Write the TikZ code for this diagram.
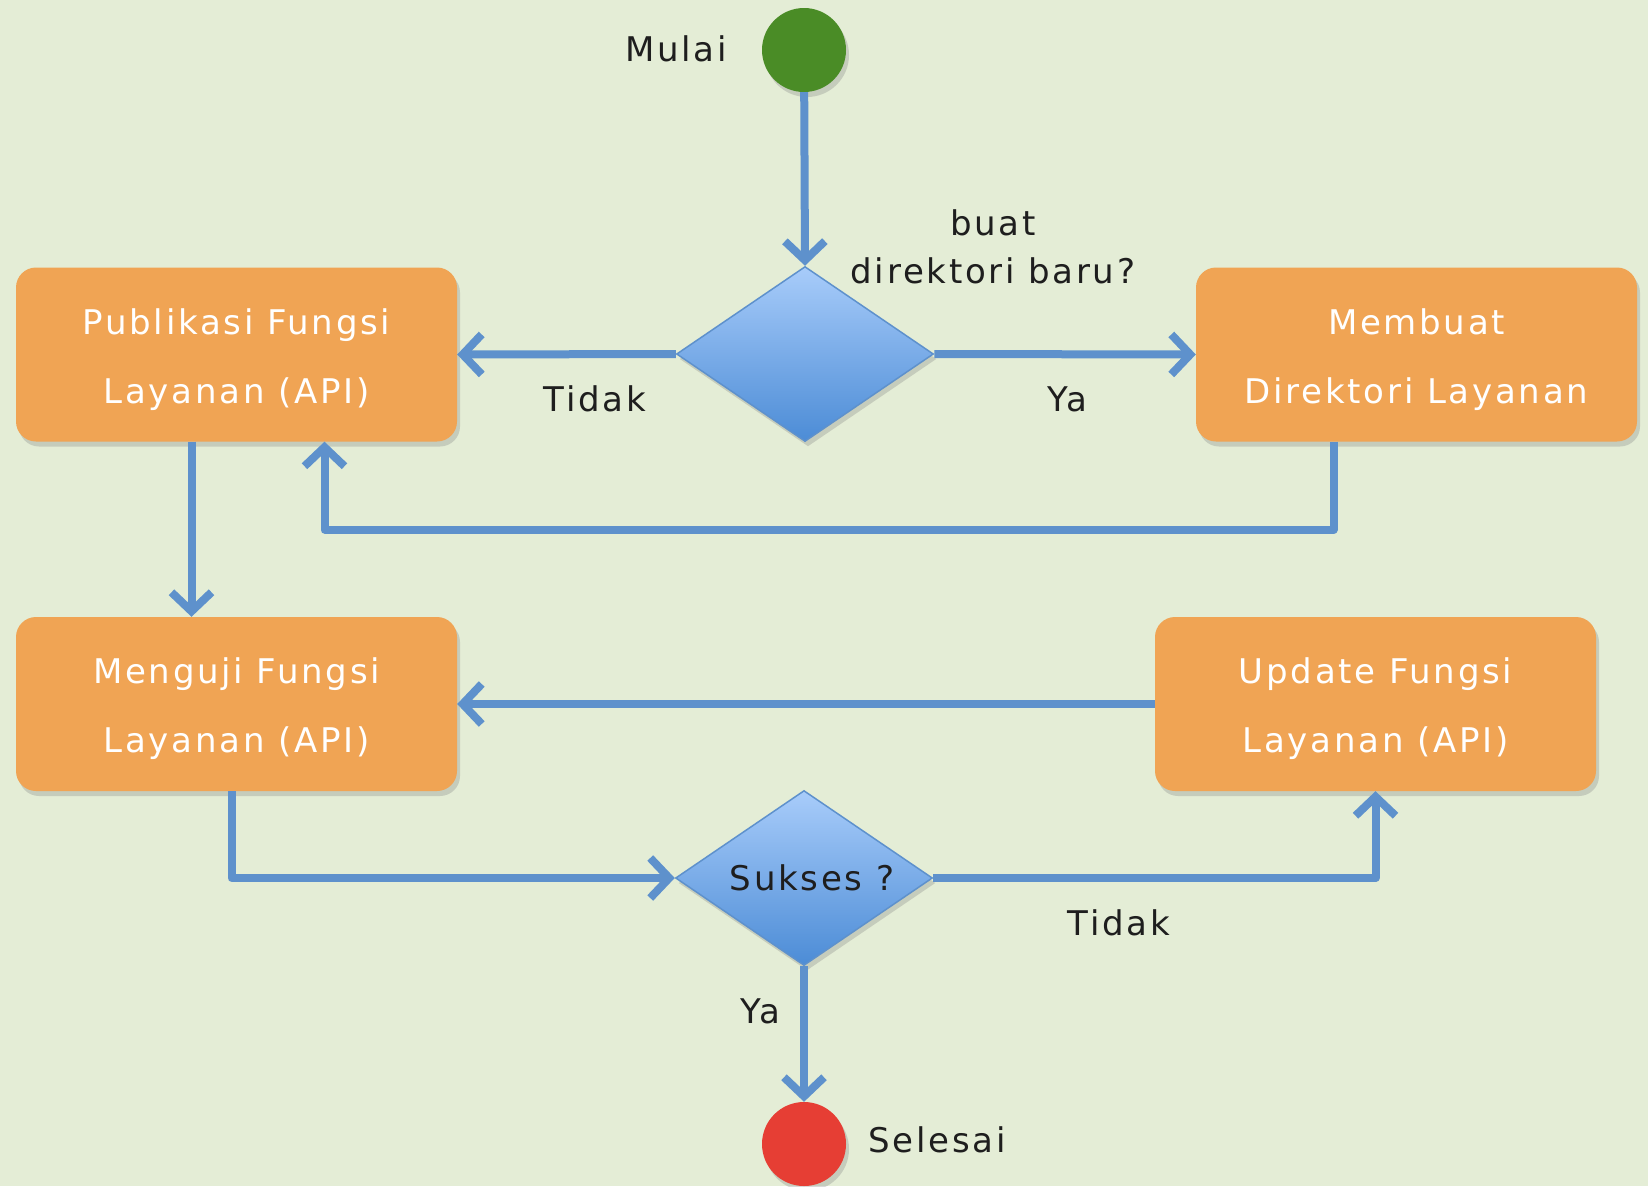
\documentclass[tikz,border=0pt]{standalone}
\usepackage{fontspec}
\setmainfont{DejaVu Sans}[LetterSpace=8]
\usetikzlibrary{shapes.geometric,arrows.meta,shadows,shadings}
\definecolor{bg}{RGB}{228,237,214}
\definecolor{boxor}{RGB}{240,164,84}
\definecolor{lineblue}{RGB}{94,145,204}
\definecolor{dtop}{RGB}{168,204,250}
\definecolor{dbot}{RGB}{76,140,214}
\definecolor{startg}{RGB}{74,140,38}
\definecolor{endr}{RGB}{230,62,52}
\definecolor{lbl}{RGB}{30,30,30}
\begin{document}
\begin{tikzpicture}[x=1pt,y=-1pt,
  shade/.style={drop shadow={shadow xshift=3pt,shadow yshift=-5pt,opacity=0.3}},
  proc/.style={fill=boxor, rounded corners=20pt, minimum width=441pt, minimum height=174pt, shade},
  boxtxt/.style={text=white, align=center, font=\fontsize{34}{69}\selectfont, yshift=-5pt},
  dec/.style={diamond, draw=lineblue, line width=1.5pt, top color=dtop, bottom color=dbot,
    minimum width=257pt, minimum height=175pt, inner sep=0pt, shade},
  term/.style={circle, minimum size=84pt, inner sep=0pt, shade},
  lab/.style={text=lbl, font=\fontsize{34}{48}\selectfont, align=center},
  arr/.style={draw=lineblue, line width=8pt, line join=round,
    -{Straight Barb[length=19pt,width=40pt,line join=miter]}}
]
\fill[bg] (0,0) rectangle (1648,1186);
\useasboundingbox (0,0) rectangle (1648,1186);

\node[term, fill=startg] (start) at (804,50) {};
\node[lab] (mulai) at (676,49) {Mulai};
\node[dec] (d1) at (805,354) {};
\node[lab] (q1) at (993,247) {buat\\direktori baru?};
\node[proc, label={[boxtxt]center:Publikasi Fungsi\\Layanan (API)}] (pub) at (236.5,354.5) {};
\node[proc, label={[boxtxt]center:Membuat\\Direktori Layanan}] (mem) at (1416.5,354.5) {};
\node[proc, label={[boxtxt]center:Menguji Fungsi\\Layanan (API)}] (men) at (236.5,704) {};
\node[proc, label={[boxtxt]center:Update Fungsi\\Layanan (API)}] (upd) at (1375.5,704) {};
\node[dec] (d2) at (804,878) {};
\node[lab] (sukses) at (812,878) {Sukses ?};
\node[term, fill=endr] (end) at (804,1144) {};
\node[lab] (selesai) at (937,1140) {Selesai};

\node[lab] (tidak1) at (595,399) {Tidak};
\node[lab] (ya1) at (1067,399) {Ya};
\node[lab] (tidak2) at (1119,923) {Tidak};
\node[lab] (ya2) at (760,1011) {Ya};

\draw[arr] (start) -- (d1.north);
\draw[arr] (d1.west) -- (pub.east);
\draw[arr] (d1.east) -- (mem.west);
\draw[arr] ([xshift=-83pt]mem.south) -- ++(0,88) -| ([xshift=88pt]pub.south);
\draw[arr] ([xshift=-45pt]pub.south) -- ([xshift=-45pt]men.north);
\draw[arr] (upd.west) -- (men.east);
\draw[arr] ([xshift=-5pt]men.south) |- (d2.west);
\draw[arr] (d2.east) -| (upd.south);
\draw[arr] (d2.south) -- (end.north);
\end{tikzpicture}
\end{document}
